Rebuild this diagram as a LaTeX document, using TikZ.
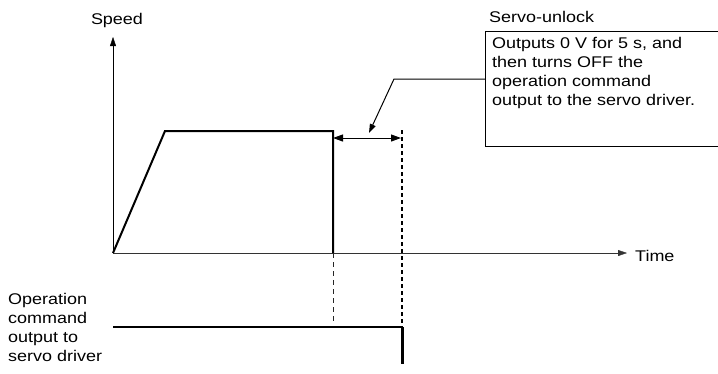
\documentclass[tikz,border=0pt]{standalone}
\usepackage{fontspec}
\setmainfont[FakeStretch=1.16]{Liberation Sans}
\usetikzlibrary{arrows.meta}
\tikzset{
	lbl/.style={inner sep=0pt,font=\fontsize{15.5}{19}\selectfont,align=left},
	thick line/.style={line width=2pt},
	tip/.style={-{Triangle[length=9pt,width=6pt]}}
}
\begin{document}
\begin{tikzpicture}[x=1pt,y=-1pt]
		\useasboundingbox (0,0) rectangle (718,373);
		% axes
		\coordinate (o) at (113,253);
		\coordinate (ytop) at (113,37);
		\coordinate (xend) at (627,253);
		\draw[tip] (o)--(ytop);
		\draw[tip,black!80] (o)--(xend);
		\node[lbl,anchor=base] (speed) at (117,24) {Speed};
		\node[lbl,anchor=base west] (time) at (635,261) {Time};
		% speed profile
		\coordinate (p1) at (165,131);
		\coordinate (p2) at (333,131);
		\coordinate (p3) at (333,253);
		\draw[thick line,line join=miter] (o)--(p1)--(p2)--(p3);
		% operation command output
		\coordinate (c0) at (113,327);
		\coordinate (c1) at (402,327);
		\coordinate (c2) at (402,364);
		\draw[thick line] (c0)--(c1);
		\draw[line width=3pt] (c1)--(c2);
		\node[lbl,anchor=north west] (cmd) at (8,293) {Operation\\command\\output to\\servo driver};
		% dashed guides
		\coordinate (d1) at (333,324);
		\coordinate (d2) at (402,130);
		\draw[dashed,dash pattern=on 5pt off 4pt,black!85] (p3)--(d1);
		\draw[line width=1.5pt,dash pattern=on 4pt off 3pt] (d2)--(c1);
		% servo-unlock interval
		\coordinate (a1) at (333,138);
		\coordinate (a2) at (401,138);
		\draw[line width=1pt,{Triangle[length=10pt,width=7pt]}-{Triangle[length=10pt,width=7pt]}] (a1)--(a2);
		% note box
		\draw[line width=1pt] (719,31)--(485,31)--(485,146)--(719,146);
		\node[lbl,anchor=base west] (unlock) at (489,22) {Servo-unlock};
		\node[lbl,anchor=north west] (note) at (492,37) {Outputs 0 V for 5 s, and\\then turns OFF the\\operation command\\output to the servo driver.};
		\coordinate (k0) at (485,79);
		\coordinate (k1) at (394,79);
		\coordinate (k2) at (369,133);
		\draw[line width=1pt,tip] (k0)--(k1)--(k2);
	\end{tikzpicture}
\end{document}
